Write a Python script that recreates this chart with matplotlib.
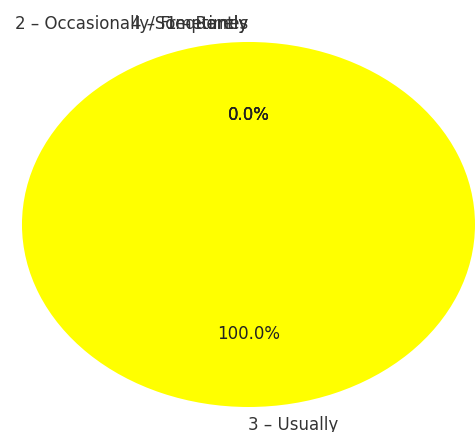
import matplotlib.pyplot as plt

labels = ["3 – Usually", "2 – Occasionally/Sometimes", "4 – Frequently", "1 – Rarely"]
counts = [1, 0, 0, 0]
colors = ["#ffff00", "#ff9900", "#66cc66", "#3399ff"]

fig = plt.figure(figsize=(4.75, 4.32), dpi=100)
ax = fig.add_axes([0, 0, 1, 1])

wedges, label_texts, pct_texts = ax.pie(
    counts,
    labels=labels,
    colors=colors,
    autopct="%1.1f%%",
    startangle=90,
    counterclock=False,
    textprops={"fontsize": 12, "color": "#333333"},
)
# the 100% label hangs to the right of the bottom, the empty ones to the left of the top
for t, c in zip(label_texts, counts):
    t.set_horizontalalignment("left" if c > 0 else "right")
for t in pct_texts:
    t.set_color("#222222")

# pie is drawn stretched, as in the reference
ax.set_aspect("auto")
ax.set_xlim(-1.097, 1.0)
ax.set_ylim(-1.137, 1.230)
ax.axis("off")

fig.savefig("out.png", dpi=100)
